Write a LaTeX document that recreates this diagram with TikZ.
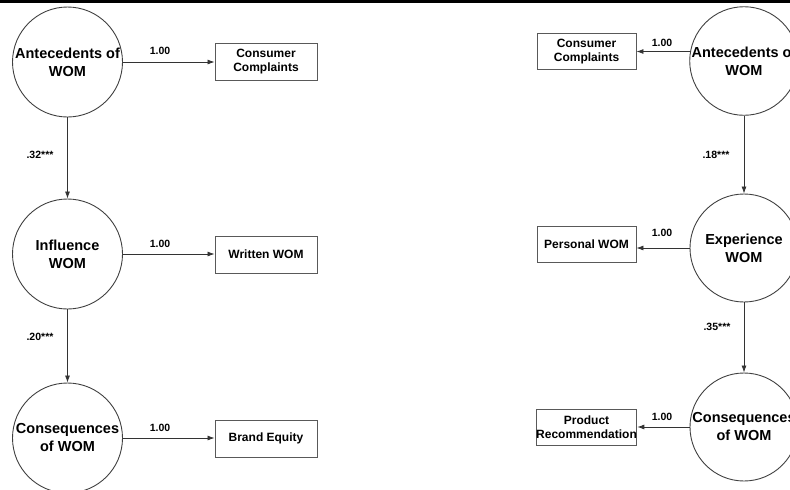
\documentclass[tikz,border=0pt]{standalone}
\usepackage{fontspec}
\setmainfont{Liberation Sans}
\usetikzlibrary{arrows.meta}
\begin{document}
\begin{tikzpicture}[x=1pt,y=-1pt,
  lat/.style={circle,draw=black!75,line width=0.9pt,minimum size=110pt,inner sep=0pt,align=center,font=\fontsize{14.5}{18}\selectfont\bfseries},
  obsL/.style={rectangle,draw=black!65,line width=0.9pt,minimum width=102pt,minimum height=37pt,inner sep=0pt,align=center,font=\fontsize{12}{14}\selectfont\bfseries},
  obsR/.style={obsL,minimum width=99pt,minimum height=36pt},
  arr/.style={draw=black!80,line width=0.8pt,-{Latex[length=7pt,width=5pt]}},
  lbl/.style={font=\fontsize{10.5}{12}\selectfont\bfseries,inner sep=0pt}]
\useasboundingbox (0,0) rectangle (790,490);
\clip (0,0) rectangle (790,490);
\coordinate (topL) at (0,1.5);
\coordinate (topR) at (790,1.5);
\draw[line width=3pt] (topL) -- (topR);

% left model
\node[lat] (A1) at (67.5,62) {Antecedents of\\WOM};
\node[lat] (I1) at (67.5,254) {Influence\\WOM};
\node[lat] (C1) at (67.5,438) {Consequences\\of WOM};
\node[obsL] (CC1) at (266,61.5) {Consumer\\Complaints};
\node[obsL] (WW) at (266,254.5) {Written WOM};
\node[obsL] (BE) at (266,438.5) {Brand Equity};

\draw[arr] (A1) -- (A1 -| CC1.west);
\draw[arr] (I1) -- (I1 -| WW.west);
\draw[arr] (C1) -- (C1 -| BE.west);
\draw[arr] (A1) -- (I1);
\draw[arr] (I1) -- (C1);

\node[lbl] (l1) at (160,51) {1.00};
\node[lbl] (l2) at (160,244) {1.00};
\node[lbl] (l3) at (160,428) {1.00};
\node[lbl] (p1) at (40,155) {.32***};
\node[lbl] (p2) at (40,337) {.20***};

% right model
\node[lat,minimum size=108pt] (A2) at (744,61) {Antecedents of\\WOM};
\node[lat,minimum size=108pt] (E2) at (744,248) {Experience\\WOM};
\node[lat,minimum size=108pt] (C2) at (744,427) {Consequences\\of WOM};
\node[obsR] (CC2) at (586.5,51.5) {Consumer\\Complaints};
\node[obsR] (PW) at (586.5,244) {Personal WOM};
\node[obsR] (PR) at (586.5,427) {Product\\Recommendation};

\draw[arr] (A2.west |- CC2.east) ++(1,0) -- (CC2.east);
\draw[arr] (E2.west) -- (E2.west -| PW.east);
\draw[arr] (C2.west) -- (C2.west -| PR.east);
\draw[arr] (A2) -- (E2);
\draw[arr] (E2) -- (C2);

\node[lbl] (r1) at (662,43) {1.00};
\node[lbl] (r2) at (662,233) {1.00};
\node[lbl] (r3) at (662,417) {1.00};
\node[lbl] (q1) at (716,155) {.18***};
\node[lbl] (q2) at (717,327) {.35***};
\end{tikzpicture}
\end{document}
